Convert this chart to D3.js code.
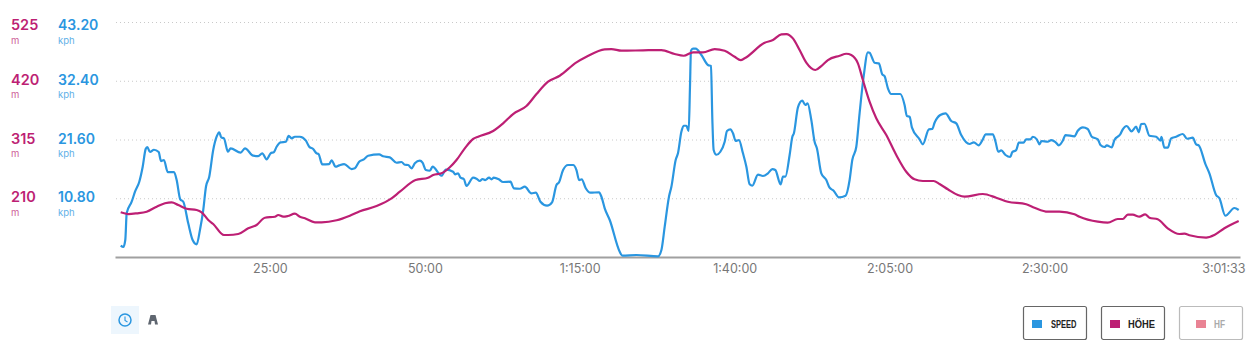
<!DOCTYPE html>
<html>
<head>
<meta charset="utf-8">
<script src="https://cdn.jsdelivr.net/npm/d3@7"></script>
<style>
  html, body { margin: 0; padding: 0; background: #fff; }
  svg { display: block; font-family: Inter, Roboto, sans-serif; }
  .grid line { stroke: #c9c9c9; stroke-dasharray: 1 3; }
  .grid path { display: none; }
  .xAxis path { stroke: #a0a0a0; stroke-width: 2; }
  .xAxis line { display: none; }
  .xAxis text { fill: #777; font-size: 12.5px; font-family: Inter, Roboto, sans-serif; }
</style>
</head>
<body>
<div id="chart"></div>
<script>
// time in minutes, speed in kph
const speedTime = [0.92,1.34,1.66,1.89,2.69,3.23,3.92,4.47,4.95,5.21,5.65,6.29,7.05,7.42,7.9,8.5,9.52,9.95,10.53,11.02,11.82,12.53,13.18,13.71,14.24,14.68,15.21,15.85,16.4,16.82,17.15,17.58,18.23,18.66,20.27,20.97,22.31,23.11,23.76,24.47,25.11,25.65,26.08,26.73,27.58,28.02,28.5,29.03,29.84,30.81,31.34,31.98,32.53,32.85,33.44,34.56,34.95,35.6,36.18,36.98,38.18,38.71,39.4,40.16,40.85,42.63,43.27,44.35,45.44,46.24,46.77,47.31,47.85,48.39,49.19,49.63,50.16,50.81,51.24,52.69,53.39,54.56,54.89,55.37,55.76,56.29,56.73,57.79,58.34,58.87,59.31,59.73,60.37,60.76,61.13,61.94,62.63,63.82,64.35,65.32,66.13,67.21,67.9,68.66,69.73,70.53,71.24,71.66,72.31,73.11,73.92,74.47,74.89,75.32,75.97,76.73,78.11,78.5,79.03,79.84,81.45,81.89,84.15,87.63,88.18,88.71,89.4,89.79,90.48,90.85,91.4,91.77,92.21,92.58,92.79,92.95,93.27,93.71,94.63,95.69,96.18,96.4,96.61,97.05,97.69,98.39,98.76,99.31,99.73,100.16,100.69,101.34,101.89,102.42,102.85,103.76,104.56,105.37,106.08,106.56,107.42,107.79,108.18,108.87,109.31,109.56,110.21,110.92,111.4,111.77,112.37,112.9,113.27,113.98,114.79,115.32,115.97,116.82,117.9,118.55,118.98,119.63,120.16,120.81,121.5,121.77,122.58,123.27,123.82,124.19,124.73,125.27,126.73,127.42,127.79,128.23,128.6,129.84,130.37,131.34,131.89,132.26,133.18,134.03,134.95,135.76,136.56,137.9,138.6,139.35,140.05,140.48,141.66,142.1,142.53,143.02,143.71,144.47,144.79,145.44,145.85,146.61,147.05,147.74,148.11,148.76,149.19,149.52,150.53,151.08,151.77,152.31,152.95,153.39,154.84,155.37,156.18,156.98,157.63,158.6,159.03,159.68,160.05,160.85,161.29,162.26,162.63,163.27,164.03,164.79,165.21,165.6,166.13,166.94,168.02,168.71,168.87,169.35,169.89,170.44,171.24,172.31,173.02,173.92,174.47,174.89,175.97,176.61,177.69,178.23,179.19,180.65,181.34];
const speedValues = [2.08,1.84,3.12,8.09,10.16,12,13.84,16.6,19.85,20.22,19.3,19.72,19.3,17.64,17.83,15.62,15.62,14.15,10.6,10.16,6.19,3.12,2.33,4.96,8.64,12.92,14.76,19.67,22.11,22.92,22,21.82,19.35,19.98,19.17,19.98,18.62,18.56,19.06,17.96,19.06,19.3,20.27,21.08,21.19,22.29,21.82,22.11,22.11,21.38,20.27,19.85,19.06,18.93,17.04,17.09,17.77,16.6,16.85,17.09,16.17,16.3,17.52,17.96,18.62,18.88,18.51,18.32,17.33,17.46,16.96,16.91,16.3,17.22,17.7,17.33,15.99,15.86,16.6,14.94,16.05,15.68,15.2,15.38,14.58,14.34,13.05,14.58,14.39,13.97,14.34,14.15,14.58,14.28,14.58,14.28,13.79,13.84,12.63,12.55,12.92,11.71,11.82,10.16,9.43,10.05,13.23,13.73,15.99,16.91,16.91,15.99,14.15,14.28,12.63,11.82,11.89,11.08,8.95,6.8,0.97,0.24,0.37,0.13,1.29,5.57,11.08,12.92,17.83,19.06,23.03,24.13,24.13,23.16,31.3,37.92,38.29,38.29,37.13,35.29,35.11,25.18,19.67,18.8,19.35,21.19,23.16,23.47,22.74,21.32,21.5,19.06,16.6,13.36,13.1,15.13,14.89,15.38,16.17,15.99,13.36,14.76,14.76,18.75,22.11,22.74,27.51,28.73,27.94,28.25,25.18,21.19,19.98,15.38,14.15,12.74,12.19,10.97,11.27,14.15,17.83,20.27,26.41,33.14,37.62,37.55,35.71,35.6,33.58,33.27,31.01,29.96,29.96,27.94,25.92,25.79,23.84,21.63,20.71,23.47,23.53,24.68,26.1,26.41,25,24.57,22.42,20.77,21.08,20.53,21.63,22.55,22.55,21.19,19.35,19.61,18.75,18.38,19.24,19.67,21.01,21.01,21.63,21.63,22.11,21.63,20.71,21.32,21.19,21.5,21.14,20.53,21.38,22.42,22.18,23.21,23.84,23.53,22.11,21.63,20.59,20.22,20.53,20.16,21.5,22.61,23.47,24.08,23.1,23.95,22.92,24.45,24.5,22.29,22.11,21.38,22.11,20.09,20.09,21.82,22.11,22.61,21.74,21.93,20.71,20.53,17.09,15.38,11.4,10.79,7.59,9.01,8.64];

// time in minutes, height in m
const heightTime = [0.92,2.15,3.5,5.11,6.73,8.06,9.15,10.21,11.56,13.18,13.98,15.05,15.85,17.58,18.27,19.89,21.5,22.85,24.19,25.81,26.34,27.15,27.9,29.03,29.84,30.65,32.26,33.34,35.76,37.9,39.52,42.21,44.63,45.97,48.5,50.53,51.34,52.69,54.03,55.11,56.45,57.79,58.6,61.02,62.63,64.24,66.4,68.02,69.89,71.77,74.47,76.08,79.03,80.11,81.73,85.21,88.18,90.32,91.77,93.27,94.89,96.77,98.39,100,100.97,101.61,104.84,106.18,107.53,108.34,109.4,110.48,111.56,113.02,113.98,115.05,116.94,118.02,118.82,119.89,120.69,121.77,122.85,124.47,126.08,127.69,129.03,130.37,132.1,133.06,134.4,136.02,137.1,140.05,142.21,144.08,147.05,148.39,150.53,152.42,154.84,155.65,158.6,160.21,161.82,162.63,163.44,164.24,165.32,166.24,166.94,168.27,169.89,171.77,172.58,173.39,176.08,177.42,179.03,181.34];
const heightValues = [184.9,181.8,183.1,186,194.9,201,202.7,197.9,191.3,189,184.9,171.1,164,144.3,144.3,146.1,156.3,162.2,175.2,177,180.1,177,178.3,182.4,177,174.2,167,167,170.6,178.8,186.7,196.1,209.9,221.7,242.6,246.7,251.5,254.6,265.3,278.3,299.2,315.9,320,330.2,343.9,360.5,374.8,396.3,418.3,429,452.9,462.9,476.2,476.7,473.7,474.4,474.9,467.8,464.7,470.8,470.8,476.7,473.7,462.9,457,460.1,488,492.8,503,503.5,495.8,474.9,452.2,439.2,446.3,457,464.7,468.3,466,451.1,421.3,382.5,352.9,323,287.3,257.4,243.8,240.8,240.8,235.5,226,215.8,212.8,217.6,211,203.8,199.2,193.1,186,186,181.3,177,168.1,166.3,172.9,172.9,180.6,180.6,177,181.3,175.2,172.4,156.3,146.1,146.6,143.8,139.5,144.3,156.3,169.3];

const speedTicks = [10.8, 21.6, 32.4, 43.2];
const heightTicks = [210, 315, 420, 525];
const timeTicks = [25, 50, 75, 100, 125, 150, 181.55];
const timeLabels = ["25:00", "50:00", "1:15:00", "1:40:00", "2:05:00", "2:30:00", "3:01:33"];
const legendNames = ["SPEED", "HÖHE", "HF"];
const legendColors = ["#2a96e0", "#bd1f74", "#e98394"];

const width = 1258;
const height = 357;
const blue = legendColors[0];
const magenta = legendColors[1];

const svg = d3.select("#chart").append("svg").attr("width", width).attr("height", height);

const x = d3.scaleLinear().domain([0, 181.55]).range([115, 1240]);
const yLeft = d3.scaleLinear().domain([0, 43.2]).range([257, 22]);
const yHeight = d3.scaleLinear().domain([105, 525]).range([257, 22]);

svg.append("g")
  .attr("class", "grid")
  .attr("transform", "translate(116, 0)")
  .call(d3.axisRight(yLeft).tickValues(speedTicks).tickSize(1124).tickFormat(""));

const timeAxis = d3.axisBottom(x)
  .tickValues(timeTicks)
  .tickSizeOuter(0)
  .tickSize(0)
  .tickPadding(7)
  .tickFormat((d, i) => timeLabels[i]);

const xG = svg.append("g")
  .attr("class", "xAxis")
  .attr("transform", "translate(0, 257)")
  .call(timeAxis);

xG.selectAll(".tick")
  .filter((d) => d === 181.55)
  .select("text")
  .attr("text-anchor", "end")
  .attr("dx", 5);

// value on top, unit below
function yLabels(ticks, scale, left, color, unit, fmt, size) {
  const g = svg.append("g").selectAll("g").data(ticks).join("g")
    .attr("transform", (d) => `translate(${left}, ${scale(d) + (d === ticks[3] ? 8 : 4)})`);
  g.append("text")
    .attr("fill", color)
    .attr("font-size", size)
    .attr("font-weight", 600)
    .text(fmt);
  g.append("text")
    .attr("y", 13.5)
    .attr("fill", color)
    .attr("opacity", 0.75)
    .attr("font-size", 9.5)
    .text(unit);
}

yLabels(heightTicks, yHeight, 11, magenta, "m", (d) => d, 14.5);
yLabels(speedTicks, yLeft, 58, blue, "kph", (d) => d.toFixed(2), 14);

function drawLine(times, values, scale, color) {
  const line = d3.line()
    .x((d) => x(d))
    .y((d, i) => scale(values[i]))
    .curve(d3.curveMonotoneX);
  svg.append("path")
    .attr("d", line(times))
    .attr("fill", "none")
    .attr("stroke", color)
    .attr("stroke-width", 2.2)
    .attr("stroke-linejoin", "round");
}

drawLine(speedTime, speedValues, yLeft, blue);
drawLine(heightTime, heightValues, yHeight, magenta);

// legend buttons
const textLeft = [27.5, 26.5, 34.5];
const textWidth = [25.5, 27, 11];
const legend = svg.append("g").selectAll("g").data(legendNames).join("g")
  .attr("transform", (d, i) => `translate(${1023.5 + i * 78}, 306.5)`);

legend.append("rect")
  .attr("width", 63)
  .attr("height", 33)
  .attr("rx", 2)
  .attr("fill", "#fff")
  .attr("stroke", (d, i) => (i === 2 ? "#bbb" : "#666"))
  .attr("stroke-width", 1.2);

legend.append("rect")
  .attr("x", (d, i) => (i === 2 ? 16.5 : 8.5))
  .attr("y", 13.5)
  .attr("width", 10)
  .attr("height", 8)
  .attr("fill", (d, i) => legendColors[i]);

legend.append("text")
  .attr("x", (d, i) => textLeft[i])
  .attr("y", 21)
  .attr("font-family", "'Liberation Sans', sans-serif")
  .attr("font-weight", 700)
  .attr("font-size", 11)
  .attr("textLength", (d, i) => textWidth[i])
  .attr("lengthAdjust", "spacingAndGlyphs")
  .attr("fill", (d, i) => (i === 2 ? "#aaa" : "#222"))
  .text((d) => d);

// view switch, clock and road icons
svg.append("rect")
  .attr("x", 111).attr("y", 306).attr("width", 28).attr("height", 28)
  .attr("fill", "#edf6fd");
svg.append("circle")
  .attr("cx", 125).attr("cy", 320).attr("r", 6)
  .attr("fill", "none").attr("stroke", blue).attr("stroke-width", 1.5);
svg.append("path")
  .attr("d", "M125 316.5V320.5L127.5 322")
  .attr("fill", "none").attr("stroke", blue).attr("stroke-width", 1.1);
svg.append("path")
  .attr("d", "M150.5 315H155.5L158 324.5H155L154.5 321H151.5L151 324.5H148Z")
  .attr("fill", "#5f6670");
</script>
</body>
</html>
